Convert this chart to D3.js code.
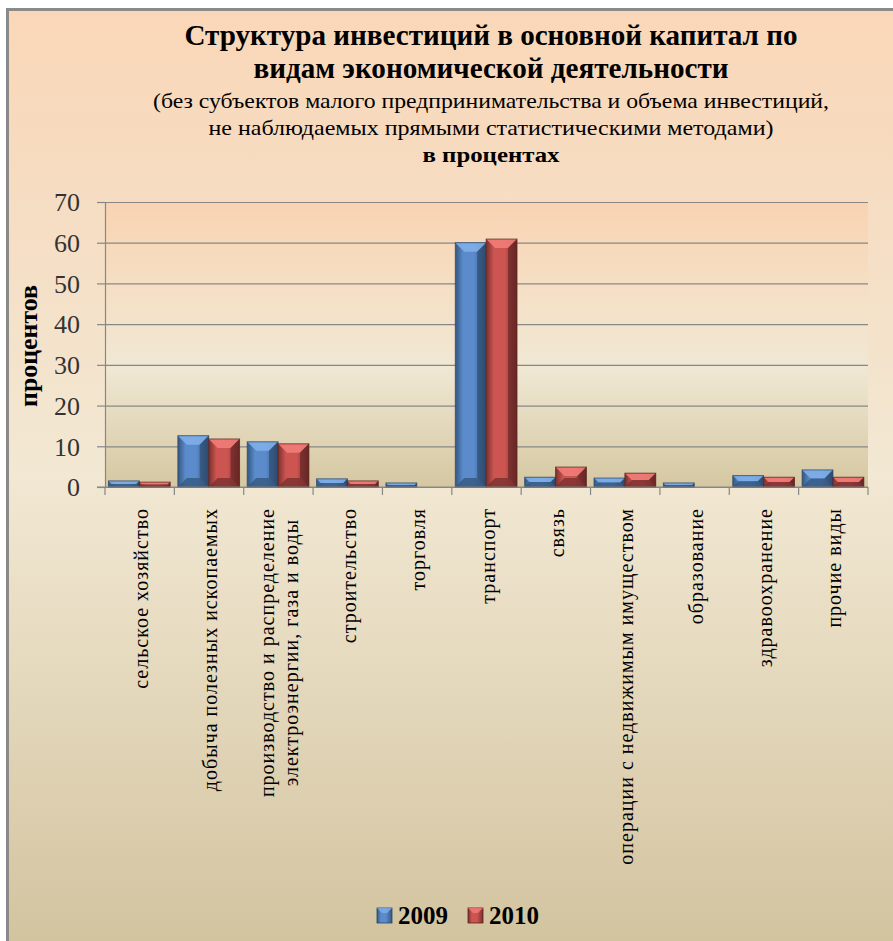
<!DOCTYPE html>
<html>
<head>
<meta charset="utf-8">
<script src="https://cdn.jsdelivr.net/npm/d3@7"></script>
<style>
  body { margin: 0; background: #fff; }
</style>
</head>
<body>
<script>
// data
var categories = [
  ["сельское хозяйство"],
  ["добыча полезных ископаемых"],
  ["производство и распределение", "электроэнергии, газа и воды"],
  ["строительство"],
  ["торговля"],
  ["транспорт"],
  ["связь"],
  ["операции с недвижимым имуществом"],
  ["образование"],
  ["здравоохранение"],
  ["прочие виды"]
];
var years = ["2009", "2010"];
var values2009 = [1.5, 12.6, 11.1, 2.0, 1.0, 60.0, 2.4, 2.2, 1.0, 2.8, 4.2];
var values2010 = [1.2, 11.8, 10.6, 1.5, 0, 60.9, 4.9, 3.4, 0, 2.4, 2.4];
var yTicks = [0, 10, 20, 30, 40, 50, 60, 70];
var titleLines = [
  "Структура инвестиций в основной капитал по",
  "видам экономической деятельности",
  "(без субъектов малого предпринимательства и объема инвестиций,",
  "не наблюдаемых прямыми статистическими методами)",
  "в процентах"
];

var serif = "'Liberation Serif', Tinos, 'Times New Roman', 'DejaVu Serif', 'Noto Serif', FreeSerif, serif";

var W = 893, H = 941;
var margin = {top: 202, right: 25, bottom: 454, left: 105};
var width = W - margin.left - margin.right;
var height = H - margin.top - margin.bottom;

var svg = d3.select("body").append("svg")
  .attr("width", W)
  .attr("height", H)
  .style("display", "block");

var defs = svg.append("defs");

var bgGrad = defs.append("linearGradient").attr("id", "bg")
  .attr("x1", 0).attr("y1", 0).attr("x2", 0).attr("y2", 1);
[[0, "#fad7b8"], [0.18, "#f6dcc1"], [0.5, "#f2e8d3"], [1, "#d3c4a0"]].forEach(function(s) {
  bgGrad.append("stop").attr("offset", s[0]).attr("stop-color", s[1]);
});

var plotGrad = defs.append("linearGradient").attr("id", "plotbg")
  .attr("x1", 0).attr("y1", 0).attr("x2", 0).attr("y2", 1);
[[0, "#f9d3b2"], [0.3, "#f5dfc4"], [0.58, "#f0e8d4"], [1, "#d5c7a1"]].forEach(function(s) {
  plotGrad.append("stop").attr("offset", s[0]).attr("stop-color", s[1]);
});

var colors = {
  "2009": {dark: "#34577f", mid: "#5b8bcb", light: "#80aee8", edge: "#2a4566"},
  "2010": {dark: "#7a302e", mid: "#cc5551", light: "#f27c78", edge: "#5a2220"}
};
years.forEach(function(k) {
  var g = defs.append("linearGradient").attr("id", "bar" + k)
    .attr("x1", 0).attr("y1", 0).attr("x2", 1).attr("y2", 0);
  [[0, colors[k].dark], [0.25, colors[k].mid], [0.6, colors[k].mid], [1, colors[k].dark]].forEach(function(s) {
    g.append("stop").attr("offset", s[0]).attr("stop-color", s[1]);
  });
});

// frame
svg.append("rect")
  .attr("x", 6).attr("y", 8)
  .attr("width", W - 6).attr("height", H - 8)
  .attr("fill", "#8a8a8a");
svg.append("rect")
  .attr("x", 9).attr("y", 11)
  .attr("width", W - 9).attr("height", H - 11)
  .attr("fill", "url(#bg)");

// title
var tx = 491;
var titleStyle = [
  {y: 45, size: 30, weight: "bold", len: 613},
  {y: 78, size: 30, weight: "bold", len: 475},
  {y: 108, size: 22, weight: "normal", len: 676},
  {y: 135, size: 22, weight: "normal", len: 565},
  {y: 162, size: 22, weight: "bold", len: 137}
];
titleLines.forEach(function(t, i) {
  svg.append("text")
    .attr("x", tx)
    .attr("y", titleStyle[i].y)
    .attr("text-anchor", "middle")
    .attr("textLength", titleStyle[i].len)
    .attr("lengthAdjust", "spacingAndGlyphs")
    .style("font-family", serif)
    .style("font-size", titleStyle[i].size + "px")
    .style("font-weight", titleStyle[i].weight)
    .style("fill", "#000")
    .text(t);
});

var g = svg.append("g")
  .attr("transform", "translate(" + margin.left + "," + margin.top + ")");

var x0 = d3.scaleBand()
  .domain(d3.range(categories.length))
  .range([0, width])
  .padding(0);
var x1 = d3.scaleBand()
  .domain(years)
  .range([x0.bandwidth() * 0.05, x0.bandwidth() * 0.94]);
var y = d3.scaleLinear().domain([0, 70]).range([height, 0]);

g.append("rect")
  .attr("width", width).attr("height", height)
  .attr("fill", "url(#plotbg)");

// grid
var grid = g.append("g")
  .call(d3.axisLeft(y).tickValues(yTicks).tickSize(-width).tickFormat(""));
grid.select(".domain").remove();
grid.selectAll("line").attr("stroke", "#878787").attr("stroke-width", 1.2);

// y axis
var yAxis = g.append("g")
  .call(d3.axisLeft(y).tickValues(yTicks).tickSize(8).tickPadding(17));
yAxis.attr("font-family", serif);
yAxis.select(".domain").attr("stroke", "#878787").attr("stroke-width", 1.2);
yAxis.selectAll("line").attr("stroke", "#878787").attr("stroke-width", 1.2);
yAxis.selectAll("text")
  .attr("dy", "0.34em")
  .style("font-family", serif)
  .style("font-size", "26px")
  .style("fill", "#333");

svg.append("text")
  .attr("transform", "translate(37,346) rotate(-90)")
  .attr("text-anchor", "middle")
  .attr("textLength", 122)
  .attr("lengthAdjust", "spacingAndGlyphs")
  .style("font-family", serif)
  .style("font-size", "25px")
  .style("font-weight", "bold")
  .text("процентов");

// bars
var rows = categories.map(function(c, i) {
  return {i: i, vals: [{k: "2009", v: values2009[i]}, {k: "2010", v: values2010[i]}]};
});

var bevel = function(sel) {
  sel.each(function(d) {
    var el = d3.select(this);
    var bx = x1(d.k), bw = x1.bandwidth();
    var by = y(d.v), bh = height - y(d.v);
    if (d.v <= 0) return;
    var c = colors[d.k];
    var b = Math.min(9, bw / 3, bh / 2);
    el.append("rect")
      .attr("x", bx).attr("y", by)
      .attr("width", bw).attr("height", bh)
      .attr("fill", "url(#bar" + d.k + ")");
    // top bevel
    el.append("path")
      .attr("d", "M" + bx + "," + by + "L" + (bx + bw) + "," + by +
        "L" + (bx + bw - b) + "," + (by + b) + "L" + (bx + b) + "," + (by + b) + "Z")
      .attr("fill", c.light).attr("opacity", 0.9);
    // bottom bevel
    el.append("path")
      .attr("d", "M" + bx + "," + (by + bh) + "L" + (bx + bw) + "," + (by + bh) +
        "L" + (bx + bw - b) + "," + (by + bh - b) + "L" + (bx + b) + "," + (by + bh - b) + "Z")
      .attr("fill", c.dark).attr("opacity", 0.8);
    // right bevel
    el.append("path")
      .attr("d", "M" + (bx + bw) + "," + by + "L" + (bx + bw) + "," + (by + bh) +
        "L" + (bx + bw - b) + "," + (by + bh - b) + "L" + (bx + bw - b) + "," + (by + b) + "Z")
      .attr("fill", c.edge).attr("opacity", 0.6);
    el.append("rect")
      .attr("x", bx).attr("y", by)
      .attr("width", bw).attr("height", bh)
      .attr("fill", "none")
      .attr("stroke", c.edge).attr("stroke-width", 1).attr("stroke-opacity", 0.7);
  });
};

g.selectAll(".cat")
  .data(rows)
  .enter().append("g")
  .attr("class", "cat")
  .attr("transform", function(d) { return "translate(" + x0(d.i) + ",0)"; })
  .selectAll(".bar")
  .data(function(d) { return d.vals; })
  .enter().append("g")
  .attr("class", "bar")
  .call(bevel);

// x axis
g.append("line")
  .attr("x1", -8).attr("x2", width)
  .attr("y1", height).attr("y2", height)
  .attr("stroke", "#878787").attr("stroke-width", 1.2);
var bounds = d3.range(categories.length).map(function(i) { return x0(i); }).concat([width]);
g.selectAll(".xtick")
  .data(bounds)
  .enter().append("line")
  .attr("x1", function(d) { return d; }).attr("x2", function(d) { return d; })
  .attr("y1", height).attr("y2", height + 8)
  .attr("stroke", "#878787").attr("stroke-width", 1.2);

var labels = g.selectAll(".xlab")
  .data(categories)
  .enter().append("text")
  .attr("class", "xlab")
  .attr("transform", function(d, i) {
    var cx = x0(i) + x0.bandwidth() / 2 + 8 - (d.length - 1) * 12;
    return "translate(" + cx + "," + (height + 21) + ") rotate(-90)";
  })
  .attr("text-anchor", "end")
  .style("font-family", serif)
  .style("font-size", "20px")
  .style("letter-spacing", "1px")
  .style("fill", "#000");
labels.each(function(d) {
  var t = d3.select(this);
  d.forEach(function(s, j) {
    t.append("tspan")
      .attr("x", 0)
      .attr("y", j * 24)
      .text(s);
  });
});
// center the shorter lines of wrapped labels
labels.each(function() {
  var spans = d3.select(this).selectAll("tspan");
  if (spans.size() < 2) return;
  var lens = spans.nodes().map(function(n) { return n.getComputedTextLength(); });
  var m = d3.max(lens);
  spans.attr("x", function(d, j) { return -(m - lens[j]) / 2; });
});

// legend
var legend = svg.append("g").attr("transform", "translate(377,908)");
var legX = [0, 91];
years.forEach(function(k, i) {
  var lg = legend.append("g").attr("transform", "translate(" + legX[i] + ",0)");
  lg.append("rect").attr("width", 15).attr("height", 15).attr("fill", "url(#bar" + k + ")")
    .attr("stroke", colors[k].edge).attr("stroke-width", 0.8);
  lg.append("path").attr("d", "M0,0L15,0L10,5L5,5Z").attr("fill", colors[k].light).attr("opacity", 0.8);
  lg.append("text")
    .attr("x", 21).attr("y", 16)
    .style("font-family", serif)
    .style("font-size", "25px")
    .style("font-weight", "bold")
    .text(k);
});
</script>
</body>
</html>
